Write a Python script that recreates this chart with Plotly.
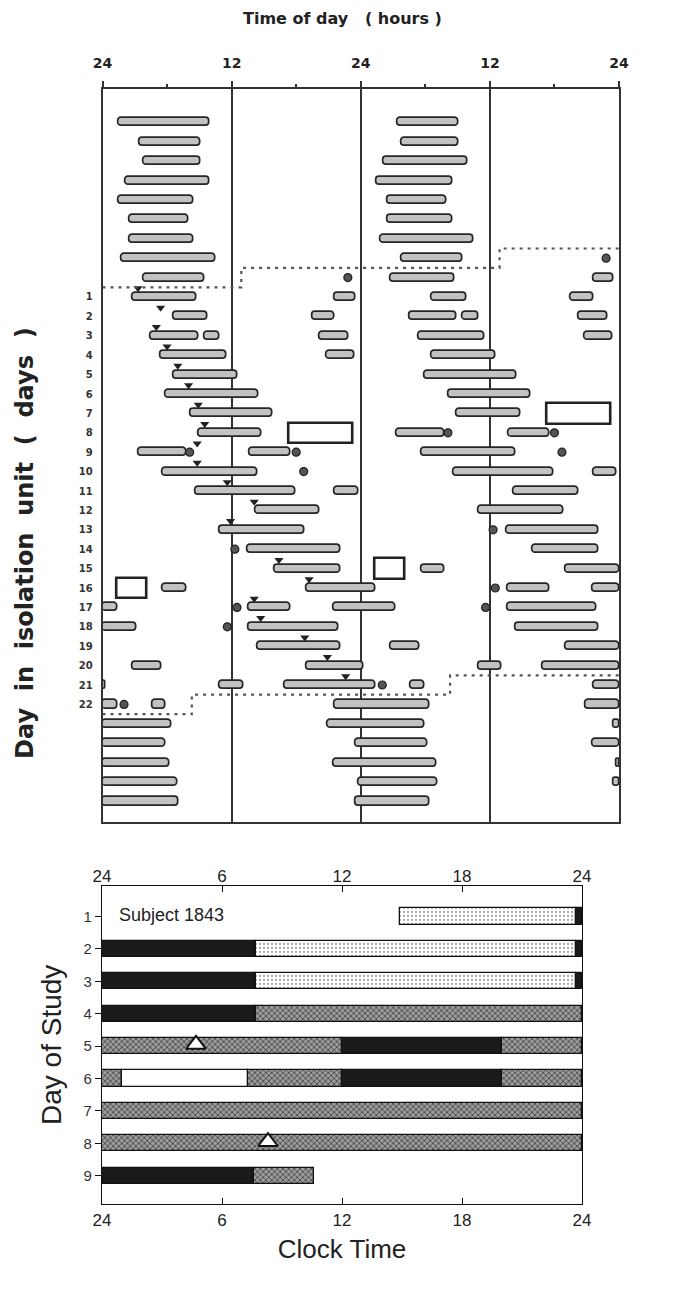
import plotly.graph_objects as go

# ---------------- Top panel data (double-plotted actogram) ----------------
# sleep episodes: start day/hour, end day/hour
ep_start_day = [-8, -7, -6, -5, -4, -3, -2, -1, 0, 1, 1, 2, 2, 3, 3, 3, 4, 4, 5, 6, 7, 8, 9, 9, 10,
                11, 11, 12, 13, 14, 15, 16, 16, 17, 17, 18, 19, 20, 20, 21, 21, 22, 22, 23, 24, 25, 26, 27]
ep_start_hr = [1.5, 3.4, 3.8, 2.1, 1.5, 2.5, 2.5, 1.8, 3.8, 2.8, 21.6, 6.6, 19.5, 4.5, 9.5, 20.2, 5.4, 20.8,
               6.6, 5.9, 8.2, 8.9, 3.3, 13.7, 5.6, 8.6, 21.6, 14.2, 10.9, 13.5, 16.0, 5.6, 19.0, 13.6, 21.5,
               13.6, 14.4, 2.8, 19.0, 10.9, 16.9, 4.6, 21.6, 20.9, 23.5, 21.5, 23.8, 23.5]
ep_end_day = [-8, -7, -6, -5, -4, -3, -2, -1, 0, 1, 1, 2, 2, 3, 3, 3, 4, 4, 5, 6, 7, 8, 9, 9, 10,
              11, 11, 12, 13, 14, 15, 16, 17, 17, 18, 18, 19, 20, 21, 21, 22, 22, 23, 24, 25, 26, 27, 28]
ep_end_hr = [9.9, 9.1, 9.1, 9.9, 8.5, 8.0, 8.5, 10.5, 9.5, 8.7, 23.5, 9.8, 21.6, 8.9, 10.9, 22.9, 11.5, 23.4,
             12.5, 14.5, 15.8, 14.8, 7.8, 17.5, 14.4, 17.9, 23.8, 20.2, 18.8, 22.1, 22.1, 7.8, 1.4, 17.5, 3.2,
             21.9, 22.1, 5.5, 0.3, 13.1, 1.4, 5.9, 6.4, 5.9, 6.2, 7.0, 7.1, 6.4]

# brief events (dots)
dot_day = [0, 9, 9, 10, 14, 17, 18, 22]
dot_hr = [22.8, 8.1, 18.0, 18.7, 12.3, 12.5, 11.6, 2.0]

# open boxes
box_day = [8, 16]
box_start = [17.3, 1.3]
box_end = [23.2, 4.1]

# triangles (left half only)
tri_day = [1, 2, 3, 4, 5, 6, 7, 8, 9, 10, 11, 12, 13, 15, 16, 17, 18, 19, 20, 21]
tri_hr = [3.3, 5.4, 5.0, 6.0, 7.0, 8.0, 8.9, 9.5, 8.8, 8.8, 11.6, 14.1, 11.9, 16.4, 19.2, 14.1, 14.7,
          18.8, 20.9, 22.6]

# isolation start / end (day, hour)
trans_day = [0, 22]
trans_hr = [12.9, 8.3]

top_tick_vals = [0, 12, 24, 36, 48]
top_tick_labels = ["24", "12", "24", "12", "24"]
day_labels = list(range(1, 23))

# ---------------- Bottom panel data ----------------
seg_day = [1, 1, 2, 2, 2, 3, 3, 3, 4, 4, 5, 5, 5, 6, 6, 6, 6, 6, 7, 8, 9, 9]
seg_start = [14.9, 23.7, 0, 7.7, 23.7, 0, 7.7, 23.7, 0, 7.7, 0, 12.0, 20.0, 0, 1.0, 7.3, 12.0, 20.0, 0, 0, 0, 7.6]
seg_end = [23.7, 24, 7.7, 23.7, 24, 7.7, 23.7, 24, 7.7, 24, 12.0, 20.0, 24, 1.0, 7.3, 12.0, 20.0, 24, 24, 24, 7.6, 10.6]
seg_kind = ["light", "dark", "dark", "light", "dark", "dark", "light", "dark", "dark", "gray",
            "gray", "dark", "gray", "gray", "white", "gray", "dark", "gray", "gray", "gray", "dark", "gray"]
stim_day = [5, 8]
stim_hr = [4.7, 8.3]
clock_vals = [0, 6, 12, 18, 24]
clock_labels = ["24", "6", "12", "18", "24"]
phase_labels = ["Baseline<br>Days", "CR 1", "Stimulus", "CR 2"]
phase_pos = [2.15, 4.5, 6.0, 7.5]

fig = go.Figure()

# ---- top panel bars (double plot) ----
abs_s = [d * 24 + h for d, h in zip(ep_start_day, ep_start_hr)]
abs_e = [d * 24 + h for d, h in zip(ep_end_day, ep_end_hr)]
rows = list(range(min(ep_start_day), max(ep_end_day)))
bx, bb, by = [], [], []
for r in rows:
    lo_r, hi_r = 24 * r, 24 * r + 48
    for s, e in zip(abs_s, abs_e):
        lo, hi = max(s, lo_r), min(e, hi_r)
        if hi > lo:
            bb.append(lo - lo_r)
            bx.append(hi - lo)
            by.append(r)
fig.add_trace(go.Bar(orientation="h", y=by, x=bx, base=bb, width=0.42,
                     marker=dict(color="#c2c2c2", line=dict(color="#262626", width=1.7), cornerradius=4),
                     xaxis="x", yaxis="y", showlegend=False, hoverinfo="skip"))

# boxes
kx, kb, ky = [], [], []
for d, s, e in zip(box_day, box_start, box_end):
    for off in (0, 1):
        r = d - off
        if r >= rows[0]:
            kb.append(s + 24 * off)
            kx.append(e - s)
            ky.append(r)
fig.add_trace(go.Bar(orientation="h", y=ky, x=kx, base=kb, width=1.05,
                     marker=dict(color="rgba(255,255,255,0)", line=dict(color="#222", width=2.6)),
                     xaxis="x", yaxis="y", showlegend=False, hoverinfo="skip"))

# dots
dx, dy = [], []
for d, h in zip(dot_day, dot_hr):
    dx.append(h); dy.append(d)
    if d - 1 >= rows[0]:
        dx.append(h + 24); dy.append(d - 1)
fig.add_trace(go.Scatter(x=dx, y=dy, mode="markers", xaxis="x", yaxis="y",
                         marker=dict(symbol="circle", size=8, color="#555", line=dict(color="#222", width=1.2)),
                         showlegend=False, hoverinfo="skip"))

# triangles
fig.add_trace(go.Scatter(x=tri_hr, y=[d - 0.45 for d in tri_day], mode="markers", xaxis="x", yaxis="y",
                         marker=dict(symbol="triangle-down", size=8, color="#222"),
                         showlegend=False, hoverinfo="skip"))

# isolation boundary step lines
for D, Hh in zip(trans_day, trans_hr):
    xs = [0, Hh, Hh, Hh + 24, Hh + 24, 48]
    ys = [D + 0.5, D + 0.5, D - 0.5, D - 0.5, D - 1.5, D - 1.5]
    fig.add_trace(go.Scatter(x=xs, y=ys, mode="lines", xaxis="x", yaxis="y",
                             line=dict(color="#555", width=2.2, dash="3px,5px"),
                             showlegend=False, hoverinfo="skip"))

# ---- bottom panel ----
styles = {
    "dark": dict(color="#1a1a1a"),
    "gray": dict(color="#8c8c8c", pattern=dict(shape="x", fgcolor="#3a3a3a", bgcolor="#9c9c9c",
                                               size=4, solidity=0.35, fillmode="replace")),
    "light": dict(color="white", pattern=dict(shape=".", fgcolor="#aaaaaa", bgcolor="white",
                                              size=4, solidity=0.25, fillmode="replace")),
    "white": dict(color="white"),
}
for kind, st in styles.items():
    ys = [d for d, k in zip(seg_day, seg_kind) if k == kind]
    bs = [s for s, k in zip(seg_start, seg_kind) if k == kind]
    ls = [e - s for s, e, k in zip(seg_start, seg_end, seg_kind) if k == kind]
    m = dict(st)
    m["line"] = dict(color="#111", width=1.3)
    fig.add_trace(go.Bar(orientation="h", y=ys, x=ls, base=bs, width=0.5, marker=m,
                         xaxis="x2", yaxis="y2", showlegend=False, hoverinfo="skip"))

fig.add_trace(go.Scatter(x=stim_hr, y=[d - 0.05 for d in stim_day], mode="markers", xaxis="x2", yaxis="y2",
                         marker=dict(symbol="triangle-up", size=17, color="white", line=dict(color="#111", width=2)),
                         showlegend=False, hoverinfo="skip"))

bold = "DejaVu Sans"
sans = "Liberation Sans"

# page body has an 8px margin: figure is sized/positioned to compensate
W, H = 670, 1287
def px_x(v):
    return (v - 8) / W
def px_y(v):
    return 1 - (v - 8) / H

fig.update_layout(
    width=W, height=H,
    margin=dict(l=0, r=0, t=0, b=0),
    paper_bgcolor="white", plot_bgcolor="white",
    barmode="overlay", bargap=0,
    font=dict(family=sans, color="#222"),
    xaxis=dict(domain=[px_x(102.5), px_x(619)], range=[0, 48], side="top", anchor="y", automargin=False,
               tickvals=top_tick_vals, ticktext=["<b>%s</b>" % t for t in top_tick_labels],
               tickfont=dict(family=bold, size=14, color="#222"), ticklabelstandoff=8,
               ticks="outside", ticklen=6, tickwidth=1.5, tickcolor="#333",
               minor=dict(tickvals=[6, 18, 30, 42], ticks="outside", ticklen=3, tickcolor="#333", showgrid=False),
               showline=True, linecolor="#333", linewidth=1.6, mirror=True,
               showgrid=True, gridcolor="#333", gridwidth=1.6, zeroline=False),
    yaxis=dict(domain=[px_y(822), px_y(89)], range=[28.06, -9.72], anchor="x", automargin=False,
               tickvals=day_labels, ticktext=["<b>%d</b>" % d for d in day_labels],
               tickfont=dict(family=bold, size=10, color="#333"), ticks="", ticklabelstandoff=6,
               showline=True, linecolor="#333", linewidth=1.6, mirror=True,
               showgrid=False, zeroline=False),
    xaxis2=dict(domain=[px_x(102), px_x(582)], range=[0, 24], anchor="y2", automargin=False,
                tickvals=clock_vals, ticktext=clock_labels, tickfont=dict(family=sans, size=17, color="#222"),
                ticks="inside", ticklen=6, tickwidth=1.3, tickcolor="#111",
                showline=True, linecolor="#111", linewidth=1.3, mirror=True,
                showgrid=False, zeroline=False,
                title=dict(text="Clock Time", font=dict(family=sans, size=26, color="#222"), standoff=11)),
    xaxis3=dict(domain=[px_x(102), px_x(582)], range=[0, 24], anchor="y2", overlaying="x2", side="top",
                automargin=False,
                tickvals=clock_vals, ticktext=clock_labels, tickfont=dict(family=sans, size=17, color="#222"),
                ticks="inside", ticklen=6, tickwidth=1.3, tickcolor="#111",
                showline=False, showgrid=False, zeroline=False),
    yaxis2=dict(domain=[px_y(1204), px_y(886)], range=[9.87, 0.06], anchor="x2", automargin=False,
                tickvals=list(range(1, 10)), ticktext=[str(d) for d in range(1, 10)],
                tickfont=dict(family=sans, size=15, color="#333"),
                ticks="outside", ticklen=6, tickwidth=1.3, tickcolor="#111",
                showline=True, linecolor="#111", linewidth=1.3, mirror=True,
                showgrid=False, zeroline=False),
)

# invisible trace to activate xaxis3
fig.add_trace(go.Scatter(x=[0], y=[0.06], mode="markers", marker=dict(opacity=0), xaxis="x3", yaxis="y2",
                         showlegend=False, hoverinfo="skip"))

nb = "\u00a0"
ylab_top = "Day in isolation unit ( days )".replace(" ", nb * 2)
ann = [
    dict(text="<b>%s</b>" % "Time of day  ( hours )".replace("  ", nb * 3), x=px_x(342), y=px_y(19),
         xref="paper", yref="paper", xanchor="center", yanchor="middle",
         showarrow=False, font=dict(family=bold, size=16, color="#222")),
    dict(text="<b>%s</b>" % ylab_top, x=px_x(25), y=px_y(543), xref="paper", yref="paper",
         xanchor="center", yanchor="middle",
         textangle=-90, showarrow=False, font=dict(family=bold, size=24, color="#222")),
    dict(text="Day of Study", x=px_x(51), y=px_y(1045), xref="paper", yref="paper",
         xanchor="center", yanchor="middle",
         textangle=-90, showarrow=False, font=dict(family=sans, size=28, color="#222")),
    dict(text="Subject 1843", x=0.75, y=0.95, xref="x2", yref="y2", xanchor="left", yanchor="middle",
         showarrow=False, font=dict(family=sans, size=18, color="#222")),
]
for t, p in zip(phase_labels, phase_pos):
    ann.append(dict(text=t, x=24.3, y=p, xref="x2", yref="y2", xanchor="left", yanchor="middle", align="left",
                    showarrow=False, font=dict(family=sans, size=16, color="#333")))
fig.update_layout(annotations=ann)

fig.write_html("out.html")
